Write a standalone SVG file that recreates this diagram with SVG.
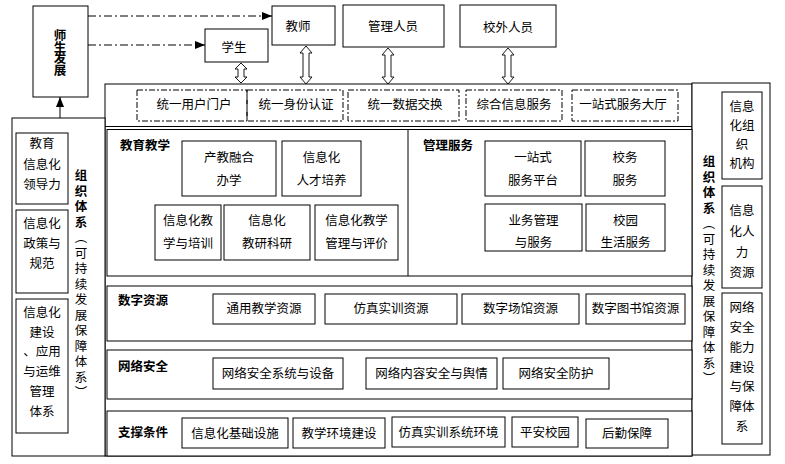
<svg xmlns="http://www.w3.org/2000/svg" width="785" height="464" viewBox="0 0 785 464">
<style>
.b{fill:#fff;stroke:#000;stroke-width:1}
.n{fill:none;stroke:#000;stroke-width:1}
.d{fill:none;stroke:#000;stroke-width:1;stroke-dasharray:6 2 2 2}
.h{fill:#fff;stroke:#000;stroke-width:0.9}
.t{font-family:"Noto Sans CJK SC","Noto Sans CJK JP",sans-serif;font-size:12.5px;text-anchor:middle;fill:#000}
.l{font-family:"Noto Sans CJK SC","Noto Sans CJK JP",sans-serif;font-size:12.5px;font-weight:bold;fill:#000}
.v{font-family:"Noto Sans CJK SC","Noto Sans CJK JP",sans-serif;font-size:12.5px;writing-mode:vertical-rl;fill:#000}
</style>
<defs>
<marker id="ar" markerUnits="userSpaceOnUse" markerWidth="10" markerHeight="8" refX="10" refY="4" orient="auto">
<path d="M0,0 L10,4 L0,8 z" fill="#000"/>
</marker>
</defs>
<rect width="785" height="464" fill="#fff"/>

<g id="frames">
<rect class="b" x="105" y="84" width="587" height="372"/>
<line class="n" x1="105" y1="126.5" x2="692" y2="126.5"/>
<rect class="b" x="12" y="118" width="93" height="338"/>
<rect class="b" x="692" y="83" width="78" height="372"/>
</g>

<g id="connectors">
<path class="n" d="M88,16 H272" stroke-dasharray="8 3 2 3" marker-end="url(#ar)"/>
<path class="n" d="M88,45 H205" stroke-dasharray="8 3 2 3" marker-end="url(#ar)"/>
<path class="n" d="M60,118 V97" marker-end="url(#ar)"/>
<polygon class="h" points="241,63 247,69 244,69 244,77 247,77 241,83 235,77 238,77 238,69 235,69"/>
<polygon class="h" points="306,46 312,53 309,53 309,77 312,77 306,84 300,77 303,77 303,53 300,53"/>
<polygon class="h" points="388,48 394,55 391,55 391,77 394,77 388,84 382,77 385,77 385,55 382,55"/>
<polygon class="h" points="508,48 514,55 511,55 511,77 514,77 508,84 502,77 505,77 505,55 502,55"/>
</g>

<g id="dev">
<rect class="b" x="33" y="6" width="55" height="91"/>
<text class="v" x="60" y="29" font-weight="bold" font-size="13" letter-spacing="-1">师生发展</text>
</g>

<g id="student"><rect class="b" x="205" y="29" width="63" height="33"/><text class="t" x="234" y="52">学生</text></g>
<g id="teacher"><rect class="b" x="272" y="6" width="63" height="39"/><text class="t" x="298" y="31">教师</text></g>
<g id="admin"><rect class="b" x="343" y="5" width="101" height="42"/><text class="t" x="393" y="31">管理人员</text></g>
<g id="outside"><rect class="b" x="460" y="5" width="96" height="42"/><text class="t" x="508" y="32">校外人员</text></g>

<g id="portal">
<rect class="d" x="137" y="90" width="110" height="31"/>
<text class="t" x="194" y="109">统一用户门户</text>
<rect class="d" x="247" y="90" width="96" height="31"/>
<text class="t" x="296" y="109">统一身份认证</text>
<rect class="d" x="348" y="90" width="111" height="31"/>
<text class="t" x="405" y="109">统一数据交换</text>
<rect class="d" x="466" y="90" width="96" height="31"/>
<text class="t" x="514" y="109">综合信息服务</text>
<rect class="d" x="572" y="90" width="106" height="31"/>
<text class="t" x="623" y="109">一站式服务大厅</text>
</g>

<g id="leftsys">
<rect class="b" x="16" y="133" width="52" height="71"/>
<text class="t"><tspan x="42" y="147.5">教育</tspan><tspan x="42" y="168.5">信息化</tspan><tspan x="42" y="188.5">领导力</tspan></text>
<rect class="b" x="16" y="210" width="52" height="83"/>
<text class="t"><tspan x="42" y="227.5">信息化</tspan><tspan x="42" y="247.5">政策与</tspan><tspan x="42" y="267.5">规范</tspan></text>
<rect class="b" x="16" y="299" width="52" height="134"/>
<text class="t"><tspan x="42" y="316.5">信息化</tspan><tspan x="42" y="336.5">建设</tspan><tspan x="42" y="355.5">、应用</tspan><tspan x="42" y="375.5">与运维</tspan><tspan x="42" y="395.5">管理</tspan><tspan x="42" y="415.5">体系</tspan></text>
<text class="v" x="81" y="169" letter-spacing="3"><tspan font-weight="bold">组织体系</tspan>（可持续发展保障体系）</text>
</g>

<g id="rightsys">
<rect class="b" x="722" y="92" width="40" height="87"/>
<text class="t"><tspan x="742" y="110.5">信息</tspan><tspan x="742" y="129.5">化组</tspan><tspan x="742" y="148.5">织</tspan><tspan x="742" y="167.5">机构</tspan></text>
<rect class="b" x="722" y="186" width="40" height="102"/>
<text class="t"><tspan x="742" y="214.5">信息</tspan><tspan x="742" y="235.5">化人</tspan><tspan x="742" y="256.5">力</tspan><tspan x="742" y="276.5">资源</tspan></text>
<rect class="b" x="722" y="293" width="40" height="151"/>
<text class="t"><tspan x="742" y="311.5">网络</tspan><tspan x="742" y="331.5">安全</tspan><tspan x="742" y="351.5">能力</tspan><tspan x="742" y="371.5">建设</tspan><tspan x="742" y="390.5">与保</tspan><tspan x="742" y="410.5">障体</tspan><tspan x="742" y="430.5">系</tspan></text>
<text class="v" x="709" y="155" letter-spacing="3"><tspan font-weight="bold">组织体系</tspan>（可持续发展保障体系）</text>
</g>

<g id="teaching">
<rect class="b" x="107" y="129.5" width="585" height="146.5"/>
<line class="n" x1="408" y1="129.5" x2="408" y2="276"/>
<text class="l" x="120" y="149.5">教育教学</text>
<rect class="b" x="182" y="141" width="94" height="55"/>
<text class="t"><tspan x="229" y="161.5">产教融合</tspan><tspan x="229" y="184.5">办学</tspan></text>
<rect class="b" x="282" y="141" width="79" height="55"/>
<text class="t"><tspan x="321.5" y="161.5">信息化</tspan><tspan x="321.5" y="184.5">人才培养</tspan></text>
<rect class="b" x="155" y="205" width="66" height="55"/>
<text class="t"><tspan x="188" y="224.5">信息化教</tspan><tspan x="188" y="247.5">学与培训</tspan></text>
<rect class="b" x="224" y="205" width="86" height="55"/>
<text class="t"><tspan x="267" y="224.5">信息化</tspan><tspan x="267" y="247.5">教研科研</tspan></text>
<rect class="b" x="315" y="205" width="83" height="55"/>
<text class="t"><tspan x="356.5" y="224.5">信息化教学</tspan><tspan x="356.5" y="247.5">管理与评价</tspan></text>
</g>

<g id="management">
<text class="l" x="423" y="149.5">管理服务</text>
<rect class="b" x="485" y="141" width="96" height="55"/>
<text class="t"><tspan x="533" y="161.5">一站式</tspan><tspan x="533" y="184.5">服务平台</tspan></text>
<rect class="b" x="585" y="141" width="80" height="55"/>
<text class="t"><tspan x="625" y="161.5">校务</tspan><tspan x="625" y="184.5">服务</tspan></text>
<rect class="b" x="485" y="204" width="97" height="47"/>
<text class="t"><tspan x="533.5" y="224.5">业务管理</tspan><tspan x="533.5" y="246.5">与服务</tspan></text>
<rect class="b" x="586" y="204" width="79" height="47"/>
<text class="t"><tspan x="625.5" y="224.5">校园</tspan><tspan x="625.5" y="246.5">生活服务</tspan></text>
</g>

<g id="digital">
<rect class="b" x="107" y="286" width="585" height="55"/>
<text class="l" x="118" y="304.5">数字资源</text>
<rect class="b" x="213" y="294" width="102" height="30"/>
<text class="t" x="264" y="313">通用教学资源</text>
<rect class="b" x="325" y="294" width="132" height="30"/>
<text class="t" x="391" y="313">仿真实训资源</text>
<rect class="b" x="462" y="294" width="117" height="30"/>
<text class="t" x="520.5" y="313">数字场馆资源</text>
<rect class="b" x="586" y="294" width="99" height="30"/>
<text class="t" x="635.5" y="313">数字图书馆资源</text>
</g>

<g id="security">
<rect class="b" x="107" y="350" width="585" height="49"/>
<text class="l" x="118" y="371">网络安全</text>
<rect class="b" x="213" y="358" width="130" height="31"/>
<text class="t" x="278" y="377.5">网络安全系统与设备</text>
<rect class="b" x="366" y="358" width="131" height="31"/>
<text class="t" x="431.5" y="377.5">网络内容安全与舆情</text>
<rect class="b" x="503" y="358" width="106" height="31"/>
<text class="t" x="556" y="377.5">网络安全防护</text>
</g>

<g id="support">
<rect class="b" x="107" y="411" width="585" height="45"/>
<text class="l" x="118" y="436.5">支撑条件</text>
<rect class="b" x="182" y="418" width="106" height="30"/>
<text class="t" x="235" y="437.5">信息化基础设施</text>
<rect class="b" x="293" y="418" width="92" height="30"/>
<text class="t" x="339" y="437.5">教学环境建设</text>
<rect class="b" x="392" y="417" width="113" height="30"/>
<text class="t" x="448.5" y="436.5">仿真实训系统环境</text>
<rect class="b" x="512" y="417" width="66" height="30"/>
<text class="t" x="545" y="436.5">平安校园</text>
<rect class="b" x="586" y="419" width="82" height="29"/>
<text class="t" x="627" y="438">后勤保障</text>
</g>
</svg>
